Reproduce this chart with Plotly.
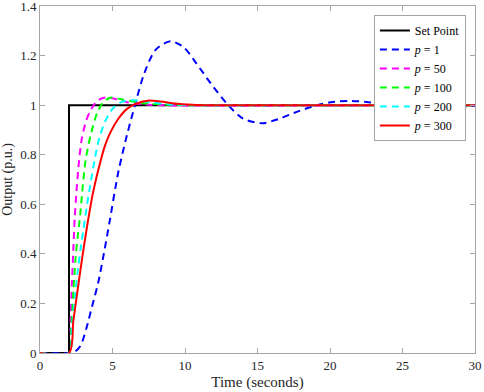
import plotly.graph_objects as go

# Set point
sp_t = [0, 2, 2, 30]
sp_y = [0, 0, 1, 1]

# p = 1
p1_t = [0, 2.0, 2.4, 2.8, 3.2, 3.6, 4.0, 4.4, 4.8, 5.4, 6.0, 6.55, 7.2, 8.0, 9.0, 9.9, 10.8, 11.8,
        12.9, 14.0, 15.3, 16.5, 17.8, 19.1, 20.2, 21.3, 22.5, 23.6, 24.6, 26.0, 27.6, 29.0, 30.0]
p1_y = [0, 0, 0.005, 0.03, 0.1, 0.19, 0.28, 0.4, 0.53, 0.73, 0.88, 1.0, 1.13, 1.225, 1.258, 1.234, 1.167, 1.086,
        1.005, 0.946, 0.927, 0.945, 0.975, 1.0, 1.013, 1.017, 1.013, 1.005, 1.0, 0.995, 0.993, 0.995, 0.997]

# p = 50
p50_t = [0, 2.0, 2.1, 2.2, 2.3, 2.4, 2.5, 2.7, 2.9, 3.2, 3.5, 3.9, 4.4, 5.2, 6.0, 7.0, 8.0, 30]
p50_y = [0, 0, 0.12, 0.28, 0.42, 0.55, 0.64, 0.78, 0.87, 0.94, 0.98, 1.015, 1.03, 1.025, 1.012, 1.004, 1.0, 1.0]

# p = 100
p100_t = [0, 2.0, 2.15, 2.3, 2.45, 2.6, 2.76, 2.92, 3.15, 3.5, 3.95, 4.4, 4.85, 5.6, 6.5, 7.5, 8.8, 10.1, 30]
p100_y = [0, 0, 0.1, 0.25, 0.38, 0.47, 0.55, 0.654, 0.78, 0.88, 0.97, 1.015, 1.03, 1.024, 1.014, 1.006, 1.002, 1.0, 1.0]

# p = 200
p200_t = [0, 2.0, 2.2, 2.4, 2.6, 2.8, 3.0, 3.25, 3.5, 3.8, 4.1, 4.5, 5.0, 5.6, 6.4, 7.5, 9.0, 11.0, 30]
p200_y = [0, 0, 0.1, 0.22, 0.33, 0.42, 0.5, 0.6, 0.69, 0.79, 0.87, 0.935, 0.985, 1.012, 1.02, 1.012, 1.003, 1.0, 1.0]

# p = 300
p300_t = [0, 2.0, 2.3, 2.62, 2.95, 3.3, 3.6, 3.9, 4.2, 4.5, 4.9, 5.4, 6.0, 6.6, 7.4, 8.3, 9.3, 10.5, 12.0, 30]
p300_y = [0, 0, 0.13, 0.265, 0.4, 0.53, 0.63, 0.71, 0.78, 0.84, 0.895, 0.945, 0.985, 1.005, 1.018, 1.015, 1.007, 1.002, 1.0, 1.0]

series = [
    ("Set Point", sp_t, sp_y, "#000000", "solid", "linear"),
    ("<i>p</i> = 1", p1_t, p1_y, "#0000ff", "7px,5px", "spline"),
    ("<i>p</i> = 50", p50_t, p50_y, "#ff00ff", "7px,5px", "spline"),
    ("<i>p</i> = 100", p100_t, p100_y, "#00ff00", "7px,5px", "spline"),
    ("<i>p</i> = 200", p200_t, p200_y, "#00ffff", "7px,5px", "spline"),
    ("<i>p</i> = 300", p300_t, p300_y, "#ff0000", "solid", "spline"),
]

fig = go.Figure()
for name, t, y, color, dash, shape in series:
    line = dict(color=color, width=2, dash=dash, shape=shape)
    if shape == "spline":
        line["smoothing"] = 0.8
    fig.add_trace(go.Scatter(x=t, y=y, mode="lines", name=name, line=line))

font_family = "Liberation Serif, Times New Roman, serif"
axis_common = dict(showgrid=False, zeroline=False, showline=True, linecolor="#a6a6a6",
                   linewidth=1, mirror="ticks", ticks="inside", ticklen=5, tickcolor="#a6a6a6",
                   automargin=False, ticklabeloverflow="allow",
                   tickfont=dict(family=font_family, size=13, color="#262626"))

fig.update_layout(
    width=484, height=392,
    margin=dict(l=40, r=9, t=6, b=39),
    paper_bgcolor="white", plot_bgcolor="white",
    font=dict(family=font_family, color="#262626"),
    xaxis=dict(range=[0, 30], tickvals=[0, 5, 10, 15, 20, 25, 30],
               title=dict(text="Time (seconds)", font=dict(family=font_family, size=15, color="#262626"), standoff=4),
               **axis_common),
    yaxis=dict(range=[0, 1.4], tickvals=[0, 0.2, 0.4, 0.6, 0.8, 1, 1.2, 1.4],
               title=dict(text="Output (p.u.)", font=dict(family=font_family, size=14, color="#262626"), standoff=4),
               **axis_common),
    legend=dict(x=0.979, y=0.974, xanchor="right", yanchor="top",
                bgcolor="white", bordercolor="#a6a6a6", borderwidth=1,
                font=dict(family=font_family, size=12, color="#000000"),
                tracegroupgap=0),
    showlegend=True,
)

fig.write_html("out.html", config={"displayModeBar": False},
               post_script="document.body.style.margin='0';document.body.style.padding='0';")
